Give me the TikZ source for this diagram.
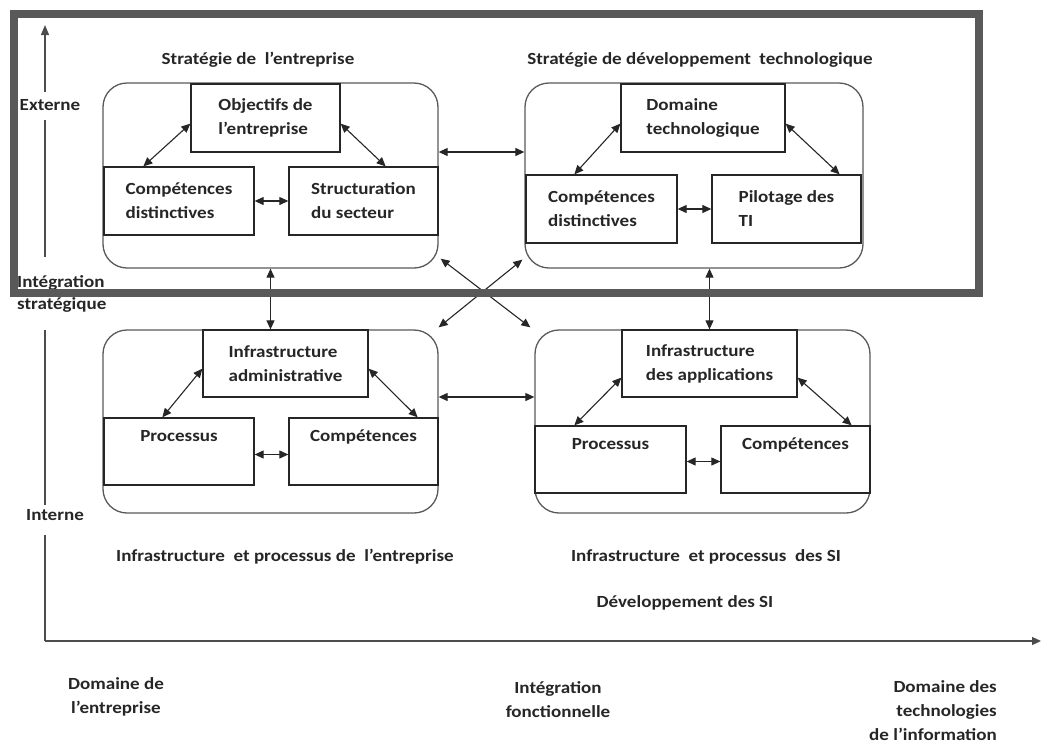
\documentclass[tikz,border=0pt]{standalone}
\usepackage{fontspec}
\setmainfont{Carlito}[FakeStretch=1.12]
\usetikzlibrary{arrows.meta}
\begin{document}
\begin{tikzpicture}[x=1pt,y=-1pt,
  every node/.style={font=\bfseries\fontsize{17}{24}\selectfont, inner sep=0pt, text=black!85},
  ibox/.style={draw=black!85, line width=1.3pt, rectangle, align=left},
  rbox/.style={draw=black!65, line width=1.3pt, rectangle, rounded corners=24pt},
  biarr/.style={{Triangle[length=9pt,width=8pt]}-{Triangle[length=9pt,width=8pt]}, line width=1.1pt, black!85},
  axis/.style={line width=1.3pt, black!70},
  ttl/.style={font=\bfseries\fontsize{17}{24}\selectfont},
  blbl/.style={font=\bfseries\fontsize{17}{24}\selectfont, align=center},
  frame/.style={draw=black!65, line width=8pt}]
\useasboundingbox (0,0) rectangle (1042,745);
% rounded groups
\node[rbox, minimum width=335pt, minimum height=185pt] (TL) at (270.5,175.5) {};
\node[rbox, minimum width=338pt, minimum height=185pt] (TR) at (694,175.5) {};
\node[rbox, minimum width=335pt, minimum height=183pt] (BL) at (270.5,421.5) {};
\node[rbox, minimum width=335pt, minimum height=183pt] (BR) at (702.5,421.5) {};
% inner boxes
\node[ibox, fill=white, minimum width=149pt, minimum height=68pt] (obj) at (265.5,118) {Objectifs de\\l’entreprise};
\node[ibox, fill=white, minimum width=150pt, minimum height=68pt] (cd1) at (179,201) {Compétences\\distinctives};
\node[ibox, fill=white, minimum width=149pt, minimum height=68pt] (st) at (363.5,201) {Structuration\\du secteur};
\node[ibox, fill=white, minimum width=164pt, minimum height=68pt] (dom) at (703,118) {Domaine\\technologique};
\node[ibox, fill=white, minimum width=151pt, minimum height=68pt] (cd2) at (601.5,209) {Compétences\\distinctives};
\node[ibox, fill=white, minimum width=149pt, minimum height=68pt] (pil) at (786.5,209) {Pilotage des\\TI};
\node[ibox, fill=white, minimum width=165pt, minimum height=67pt] (ia) at (285.5,363.5) {Infrastructure\\administrative};
\node[ibox, fill=white, minimum width=150pt, minimum height=67pt] (pr1) at (179,451.5) {Processus\\\strut};
\node[ibox, fill=white, minimum width=149pt, minimum height=67pt] (co1) at (363.5,451.5) {Compétences\\\strut};
\node[ibox, fill=white, minimum width=175pt, minimum height=67pt] (iap) at (709.5,363.5) {Infrastructure\\des applications};
\node[ibox, fill=white, minimum width=151pt, minimum height=67pt] (pr2) at (610.5,459.5) {Processus\\\strut};
\node[ibox, fill=white, minimum width=149pt, minimum height=67pt] (co2) at (795.5,459.5) {Compétences\\\strut};
% inner arrows
\draw[biarr] ([yshift=29pt]obj.south west) -- ([xshift=40pt]cd1.north west);
\draw[biarr] ([yshift=29pt]obj.south east) -- ([xshift=-53pt]st.north east);
\draw[biarr] (cd1.east) -- (st.west);
\draw[biarr] ([yshift=29pt]dom.south west) -- ([xshift=49pt]cd2.north west);
\draw[biarr] ([yshift=29pt]dom.south east) -- ([xshift=-22pt]pil.north east);
\draw[biarr] (cd2.east) -- (pil.west);
\draw[biarr] ([yshift=29pt]ia.south west) -- ([xshift=59pt]pr1.north west);
\draw[biarr] ([yshift=29pt]ia.south east) -- ([xshift=-21pt]co1.north east);
\draw[biarr] ([yshift=-3pt]pr1.east) -- ([yshift=-3pt]co1.west);
\draw[biarr] ([yshift=20pt]iap.south west) -- ([xshift=40pt]pr2.north west);
\draw[biarr] ([yshift=20pt]iap.south east) -- ([xshift=-19pt]co2.north east);
\draw[biarr] ([yshift=-2pt]pr2.east) -- ([yshift=-2pt]co2.west);
% group connectors
\draw[biarr] ([yshift=23.5pt]TL.east) -- ([yshift=23.5pt]TR.west);
\draw[biarr] ([yshift=24.5pt]BL.east) -- ([yshift=24.5pt]BR.west);
\draw[biarr] (TL.south) -- (BL.north);
\draw[biarr] (iap.north |- TR.south) -- (iap.north);
\draw[biarr] ([shift={(2pt,10pt)}]TL.south east) -- ([shift={(-4pt,2pt)}]BR.north west);
\draw[biarr] ([shift={(-2pt,9pt)}]TR.south west) -- ([shift={(0pt,2pt)}]BL.north east);
% titles
\node[ttl] (t1) at (258,60) {Stratégie de\ \ l’entreprise};
\node[ttl] (t2) at (700,60) {Stratégie de développement\ \ technologique};
\node[ttl] (t3) at (285,557) {Infrastructure\ \ et processus de\ \ l’entreprise};
\node[ttl] (t4) at (706,557) {Infrastructure\ \ et processus\ \ des SI};
\node[ttl] (t5) at (685,603) {Développement des SI};
% axes labels
\node[ttl] (ext) at (50,105) {Externe};
\node[ttl, anchor=west, align=left, font=\bfseries\fontsize{17}{22}\selectfont] (integ) at (17,294) {Intégration\\stratégique};
\node[ttl] (int) at (55,515) {Interne};
\node[blbl] (b1) at (116,697) {Domaine de\\l’entreprise};
\node[blbl] (b2) at (558,700) {Intégration\\fonctionnelle};
\node[blbl, align=right, anchor=east] (b3) at (997,711) {Domaine des\\technologies\\de l’information};
% axes
\coordinate (O) at (45,641);
\coordinate (Xend) at (1041,641);
\coordinate (Yend) at (45,25);
\draw[axis] (O) -- (45,535);
\draw[axis] (45,505) -- (45,330);
\draw[axis] (45,257) -- (45,120);
\draw[axis, -{Triangle[length=10pt,width=8pt]}] (45,92) -- (Yend);
\draw[axis, -{Triangle[length=9pt,width=8pt]}] (O) -- (Xend);
% frame
\draw[frame] (14,14) rectangle (979,293);
\end{tikzpicture}
\end{document}
